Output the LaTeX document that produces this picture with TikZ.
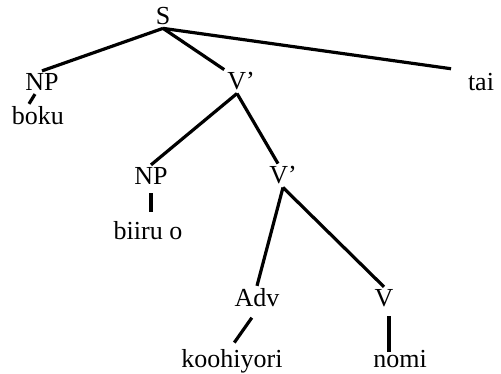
\documentclass[tikz,border=0pt]{standalone}
\usepackage{fontspec}
\setmainfont{Liberation Serif}

\begin{document}
\begin{tikzpicture}[x=1pt,y=-1pt,line width=3.2pt,
		every node/.style={anchor=base,inner sep=1.5pt,font=\fontsize{26}{30}\selectfont}]
		\useasboundingbox (0,0) rectangle (501,374);

		\node (S)         at (163,25)  {S};
		\node (NP1)       at (42,91)   {NP};
		\node (Vbar1)     at (241,90)  {V'};
		\node (tai)       at (481,91)  {tai};
		\node (boku)      at (38,125)  {boku};
		\node (NP2)       at (151,185) {NP};
		\node (Vbar2)     at (283,184) {V'};
		\node (biiru)     at (148,240) {biiru o};
		\node (Adv)       at (257,307) {Adv};
		\node (V)         at (384,307) {V};
		\node (koohiyori) at (232,367) {koohiyori};
		\node (nomi)      at (400,367) {nomi};


		\path (S.south) edge (NP1.north);
		\path (S.south) edge (Vbar1.north west);
		\path (S.south) edge [shorten >=14pt] (tai.north west);
		\path ([xshift=-7pt]NP1.south) edge ([xshift=-9pt]boku.north);
		\path ([xshift=-4pt]Vbar1.south) edge (NP2.north);
		\path ([xshift=-4pt]Vbar1.south) edge ([xshift=-5pt]Vbar2.north);
		\path (NP2.south) edge [shorten <=5pt, shorten >=7pt] (NP2.south |- biiru.north);
		\path (Vbar2.south) edge (Adv.north);
		\path (Vbar2.south) edge (V.north);
		\path (Adv.south) edge [shorten <=9pt, shorten >=4pt] (koohiyori.north);
		\path ([xshift=5pt]V.south) edge [shorten <=6pt, shorten >=-5pt] ([xshift=-11pt]nomi.north);
	\end{tikzpicture}
\end{document}
